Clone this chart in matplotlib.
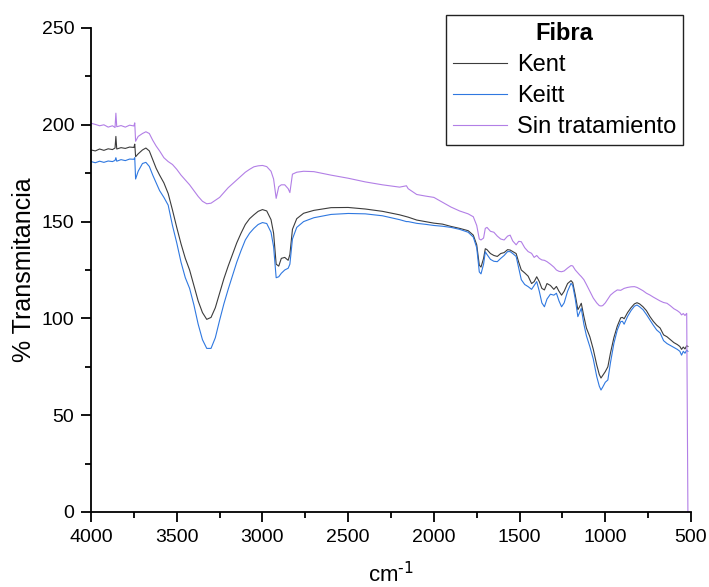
import matplotlib
matplotlib.use("Agg")
import matplotlib.pyplot as plt
from matplotlib.ticker import MultipleLocator

plt.rcParams['font.family'] = ['Liberation Sans', 'DejaVu Sans']

# numero de onda (cm-1)
wn = [4000, 3975, 3950, 3925, 3900, 3875, 3860, 3855, 3850, 3825, 3800, 3775, 3750, 3745,
      3740, 3725, 3700, 3680, 3660, 3640, 3620, 3600, 3575, 3550, 3525, 3500, 3475, 3450,
      3425, 3400, 3375, 3350, 3325, 3300, 3275, 3250, 3225, 3200, 3175, 3150, 3125, 3100,
      3075, 3050, 3025, 3000, 2975, 2950, 2935, 2920, 2905, 2890, 2870, 2850, 2840, 2825,
      2800, 2760, 2700, 2600, 2500, 2400, 2300, 2200, 2160, 2150, 2100, 2050, 2000, 1950,
      1900, 1850, 1800, 1770, 1750, 1735, 1725, 1710, 1700, 1690, 1670, 1650, 1630, 1610,
      1590, 1570, 1555, 1540, 1520, 1505, 1490, 1470, 1450, 1430, 1415, 1400, 1385, 1370,
      1355, 1340, 1320, 1300, 1285, 1270, 1255, 1240, 1220, 1200, 1190, 1175, 1160, 1150,
      1140, 1125, 1110, 1090, 1070, 1050, 1035, 1025, 1015, 1000, 985, 970, 950, 930,
      910, 900, 890, 870, 850, 830, 815, 800, 780, 760, 740, 720, 700, 680,
      660, 640, 620, 600, 580, 565, 555, 545, 535, 525, 518]

kent = [187, 186.5, 187.5, 186.8, 187.6, 187.2, 188, 194, 187.5, 188.2, 187.8, 188.5, 188.3, 190,
        183.5, 185, 187, 188, 186.5, 182, 177.5, 174, 170, 164.5, 156, 147, 138.5, 131,
        125, 117, 109, 103, 99.5, 100.5, 105.5, 113, 120.5, 127, 133, 139, 144, 148.5,
        151.5, 153.5, 155.3, 156.2, 155.5, 151, 144, 128, 127, 131, 131.5, 130, 133, 146,
        151.5, 154.3, 155.8, 157.2, 157.3, 156.5, 155.3, 153.5, 152.5, 152.3, 150.8, 150, 149.2, 148.7,
        147.5, 146.5, 145.3, 143, 138, 127.5, 126.5, 131, 136, 135.5, 133.5, 132.5, 132, 133.5,
        134, 135.5, 135.3, 134.5, 133.5, 129, 125, 123.5, 121.8, 118, 119, 121.5, 119, 115.5,
        114.7, 118, 117, 115, 116.5, 114, 112, 114, 118, 119.5, 118.5, 112, 104.5, 106,
        107.8, 101, 95, 90.5, 84, 76, 71, 69.2, 70.5, 72.5, 75, 82, 90, 96,
        100.3, 100.5, 99.8, 103, 105.5, 107.5, 108.1, 107.5, 106, 104, 101, 98.5, 96.5, 95,
        91.5, 90.5, 89, 87.5, 86.5, 85.5, 84, 85.2, 84.2, 85.9, 85.5]

keitt = [181, 180.4, 181.2, 180.6, 181.3, 181, 181.6, 183, 181.2, 182, 181.5, 182.3, 182.2, 183,
         172, 176, 180, 180.6, 178.5, 174, 170, 166, 162.5, 158.5, 148, 139, 129, 121,
         115.5, 107, 97, 89, 84.5, 84.5, 90, 99, 107.5, 115, 122, 129, 135, 140.5,
         144, 146.5, 148.5, 149.5, 149, 144.5, 137, 121, 121.5, 123.3, 125, 125.9, 128, 141,
         147, 150, 152, 153.7, 154.2, 154, 153, 151, 150, 150, 149.1, 148.6, 148, 147.6,
         147, 146, 144.5, 142, 136.5, 124, 123, 128, 134.4, 133, 130.5, 129.5, 129.3, 131,
         132.5, 134.5, 134.5, 133.5, 132, 126, 120, 117.5, 116.4, 115, 117, 119, 114, 108,
         106, 110, 112.5, 112, 113, 109, 106, 108, 114, 118.1, 117, 110, 100.9, 103,
         105.2, 97, 91, 85.4, 79, 70, 65, 63, 64.5, 67, 68.2, 77, 87, 94,
         98.3, 98.5, 97, 101, 104, 106.3, 106.9, 106, 104.5, 102, 99.2, 96.5, 94, 92.5,
         88.5, 87, 86, 85, 84, 83, 81, 83, 82, 83.6, 83]

sin_trat = [200.8, 200.2, 199.5, 200, 198.8, 199.5, 198.6, 206, 199, 199.6, 198.8, 199.8, 199.4, 201,
            191.5, 194, 195.5, 196.4, 195.5, 192, 189, 186.5, 183, 181, 179.5, 177, 174, 171.5,
            169, 166, 163, 160.5, 159.2, 159.5, 161, 162.5, 165, 167.5, 169.5, 171.5, 173.5, 175.5,
            177, 178.3, 178.8, 179, 178.4, 176, 172, 162, 168, 169, 169, 167, 165, 174.5,
            175.5, 176, 175.8, 174, 172.4, 170.5, 169, 167.8, 168.5, 167, 164, 163.2, 162.5, 160,
            157.5, 155.5, 154, 152.5, 148, 141, 140.5, 141.5, 146.5, 147, 145, 144.5, 142.5, 141,
            140.5, 142.5, 143, 140, 138, 139.8, 139.6, 136.5, 134.5, 133.6, 131.5, 132.5, 131, 130.2,
            130, 129.3, 128, 126.5, 125, 124.3, 124.1, 124.5, 126, 127.3, 127.1, 125, 123.5, 122.5,
            121.6, 120, 117.5, 114, 110.5, 108, 106.6, 106.4, 106.6, 108, 110, 112, 113.5, 114.7,
            114.5, 115, 115.5, 116, 116.3, 116.4, 116, 115.3, 114.3, 113, 112.1, 111, 110, 109,
            108.2, 107.8, 106.5, 105, 104, 103, 101.8, 102.5, 101.5, 102.6, 0]

fig = plt.figure(figsize=(7.09, 5.87), dpi=100)
ax = fig.add_axes([0.1284, 0.1278, 0.8462, 0.8245])

ax.plot(wn, kent, color='#3c3c3c', lw=0.8, label='Kent')
ax.plot(wn, keitt, color='#2f78e0', lw=0.8, label='Keitt')
ax.plot(wn, sin_trat, color='#b27fe6', lw=0.8, label='Sin tratamiento')

ax.set_xlim(4000, 500)
ax.set_ylim(0, 250)
ax.xaxis.set_major_locator(MultipleLocator(500))
ax.xaxis.set_minor_locator(MultipleLocator(250))
ax.yaxis.set_major_locator(MultipleLocator(50))
ax.yaxis.set_minor_locator(MultipleLocator(25))

for s in ['top', 'right']:
    ax.spines[s].set_visible(False)
for s in ['left', 'bottom']:
    ax.spines[s].set_linewidth(1.3)

ax.tick_params(which='major', direction='out', length=7, width=1.3, labelsize=14, pad=5)
ax.tick_params(which='minor', direction='out', length=4, width=1.3)

ax.set_xlabel(r'cm$^{\text{-1}}$', fontsize=16, labelpad=12)
ax.set_ylabel('% Transmitancia', fontsize=18, labelpad=4)

leg = ax.legend(title='Fibra', loc='upper right', bbox_to_anchor=(0.987, 1.027),
                borderaxespad=0, fontsize=17, title_fontproperties={'weight': 'bold', 'size': 17},
                fancybox=False, framealpha=1, edgecolor='#222222',
                handlelength=2.3, handletextpad=0.4, labelspacing=0.38, borderpad=0.3)
leg.get_frame().set_linewidth(1.0)

fig.savefig('out.png', dpi=100)
